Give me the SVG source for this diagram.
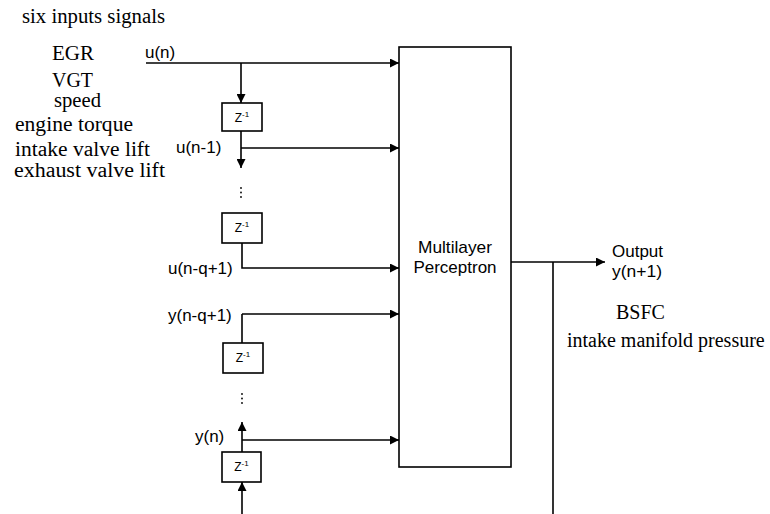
<svg xmlns="http://www.w3.org/2000/svg" width="770" height="514" viewBox="0 0 770 514">
<defs>
<marker id="arr" viewBox="0 0 10 10" refX="10" refY="5" markerWidth="10" markerHeight="9" markerUnits="userSpaceOnUse" orient="auto">
<path d="M0,0 L10,5 L0,10 Z" fill="#000"/>
</marker>
<style>
.ln{fill:none;stroke:#000;stroke-width:1.6}
.bx{fill:#fff;stroke:#000;stroke-width:1.6}
.tm{font-family:"Liberation Serif","Times New Roman",serif;font-size:20px;fill:#000}
.sa{font-family:"Liberation Sans",Arial,sans-serif;font-size:17px;fill:#000}
.z{font-family:"Liberation Sans",Arial,sans-serif;font-size:12px;fill:#000}
.zs{font-size:8px}
.dot{fill:#000}
</style>
</defs>
<rect width="770" height="514" fill="#fff"/>

<g id="labels-inputs">
<text class="tm" x="22" y="23" textLength="143" lengthAdjust="spacingAndGlyphs">six inputs signals</text>
<text class="tm" x="52" y="60" textLength="42" lengthAdjust="spacingAndGlyphs">EGR</text>
<text class="tm" x="52" y="87" textLength="41" lengthAdjust="spacingAndGlyphs">VGT</text>
<text class="tm" x="54" y="107" font-size="19" textLength="47" lengthAdjust="spacingAndGlyphs">speed</text>
<text class="tm" x="15" y="131" textLength="118" lengthAdjust="spacingAndGlyphs">engine  torque</text>
<text class="tm" x="15" y="156" textLength="135" lengthAdjust="spacingAndGlyphs">intake valve  lift</text>
<text class="tm" x="14" y="177" textLength="151" lengthAdjust="spacingAndGlyphs">exhaust  valve  lift</text>
</g>

<g id="connectors">
<line class="ln" x1="146" y1="63" x2="399" y2="63" marker-end="url(#arr)"/>
<line class="ln" x1="241" y1="63" x2="241" y2="103" marker-end="url(#arr)"/>
<line class="ln" x1="241" y1="131" x2="241" y2="168" marker-end="url(#arr)"/>
<line class="ln" x1="241" y1="148" x2="399" y2="148" marker-end="url(#arr)"/>
<polyline class="ln" points="242,243 242,268 399,268" marker-end="url(#arr)"/>
<line class="ln" x1="242" y1="314" x2="399" y2="314" marker-end="url(#arr)"/>
<line class="ln" x1="242" y1="314" x2="242" y2="343"/>
<line class="ln" x1="242" y1="452" x2="242" y2="422" marker-end="url(#arr)"/>
<line class="ln" x1="242" y1="440" x2="399" y2="440" marker-end="url(#arr)"/>
<line class="ln" x1="242" y1="514" x2="242" y2="482" marker-end="url(#arr)"/>
<line class="ln" x1="511" y1="262" x2="605" y2="262" marker-end="url(#arr)"/>
<line class="ln" x1="553" y1="262" x2="553" y2="514"/>
</g>

<g id="dots1">
<circle class="dot" cx="241" cy="188" r="0.9"/>
<circle class="dot" cx="241" cy="192.5" r="0.9"/>
<circle class="dot" cx="241" cy="197" r="0.9"/>
</g>
<g id="dots2">
<circle class="dot" cx="242" cy="394" r="0.9"/>
<circle class="dot" cx="242" cy="398.5" r="0.9"/>
<circle class="dot" cx="242" cy="403" r="0.9"/>
</g>

<g id="z1">
<rect class="bx" x="222" y="103" width="40" height="28"/>
<text class="z" x="242" y="122" text-anchor="middle">Z<tspan class="zs" dy="-5">-1</tspan></text>
</g>
<g id="z2">
<rect class="bx" x="222" y="213" width="40" height="30"/>
<text class="z" x="242" y="232" text-anchor="middle">Z<tspan class="zs" dy="-5">-1</tspan></text>
</g>
<g id="z3">
<rect class="bx" x="223" y="343" width="40" height="30"/>
<text class="z" x="243" y="362" text-anchor="middle">Z<tspan class="zs" dy="-5">-1</tspan></text>
</g>
<g id="z4">
<rect class="bx" x="222" y="452" width="39" height="30"/>
<text class="z" x="241.5" y="471" text-anchor="middle">Z<tspan class="zs" dy="-5">-1</tspan></text>
</g>

<g id="mlp">
<rect class="bx" x="399" y="47" width="112" height="420"/>
<text class="sa" x="455" y="253" text-anchor="middle" textLength="74" lengthAdjust="spacingAndGlyphs">Multilayer</text>
<text class="sa" x="455" y="273" text-anchor="middle">Perceptron</text>
</g>

<g id="signal-labels">
<text class="sa" x="145" y="58">u(n)</text>
<text class="sa" x="176" y="153">u(n-1)</text>
<text class="sa" x="168" y="274">u(n-q+1)</text>
<text class="sa" x="168" y="321">y(n-q+1)</text>
<text class="sa" x="195" y="442">y(n)</text>
</g>

<g id="output">
<text class="sa" x="612" y="257" font-size="16.5" textLength="51" lengthAdjust="spacingAndGlyphs">Output</text>
<text class="sa" x="612" y="277" font-size="16.5" textLength="50" lengthAdjust="spacingAndGlyphs">y(n+1)</text>
<text class="tm" x="616" y="319">BSFC</text>
<text class="tm" x="567" y="347" font-size="20.7">intake manifold pressure</text>
</g>
</svg>
